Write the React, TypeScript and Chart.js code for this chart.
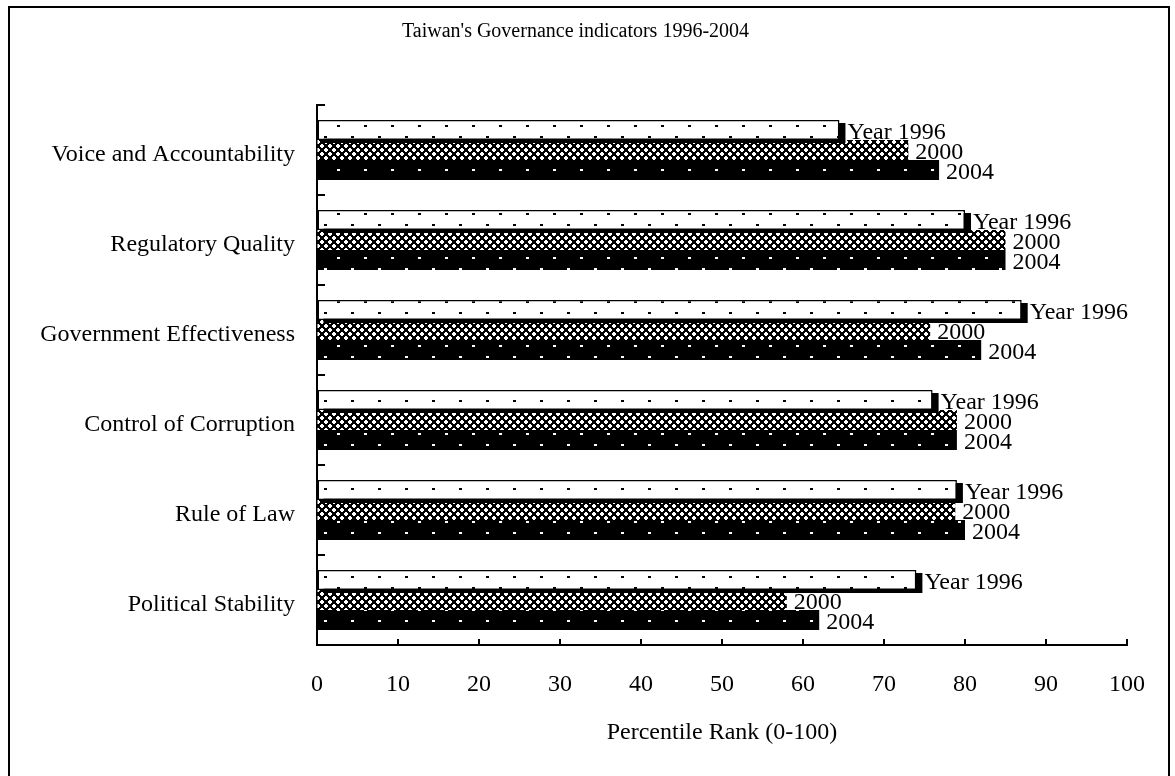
import React, { useEffect, useRef } from 'react';
import { Chart, registerables } from 'chart.js';

Chart.register(...registerables);

const titleText = "Taiwan's Governance indicators 1996-2004";
const axisTitle = 'Percentile Rank (0-100)';
const categories = [
  'Voice and Accountability',
  'Regulatory Quality',
  'Government Effectiveness',
  'Control of Corruption',
  'Rule of Law',
  'Political Stability',
];
const seriesNames = ['Year 1996', '2000', '2004'];
const values1996 = [64.5, 80, 87, 76, 79, 74];
const values2000 = [73, 85, 75.7, 79, 78.8, 58];
const values2004 = [76.8, 85, 82, 79, 80, 62];
const xMin = 0;
const xMax = 100;
const xStep = 10;

const FONT = "'Liberation Serif', 'Times New Roman', serif";

function makeDotPattern(ctx: CanvasRenderingContext2D, bg: string, fg: string) {
  const c = document.createElement('canvas');
  c.width = 27;
  c.height = 22;
  const t = c.getContext('2d')!;
  t.fillStyle = bg;
  t.fillRect(0, 0, 27, 22);
  t.fillStyle = fg;
  t.fillRect(13, 15, 3, 2);
  t.fillRect(0, 4, 3, 2);
  return ctx.createPattern(c, 'repeat')!;
}

function makeCheckPattern(ctx: CanvasRenderingContext2D) {
  const c = document.createElement('canvas');
  c.width = 8;
  c.height = 8;
  const t = c.getContext('2d')!;
  t.fillStyle = '#000';
  t.fillRect(0, 0, 8, 8);
  t.fillStyle = '#fff';
  // white diamond/plus shapes in a checker arrangement
  t.fillRect(1, 0, 2, 4);
  t.fillRect(0, 1, 4, 2);
  t.fillRect(5, 4, 2, 4);
  t.fillRect(4, 5, 4, 2);
  return ctx.createPattern(c, 'repeat')!;
}

const decorPlugin = {
  id: 'decor',
  beforeDraw(chart: any) {
    const ctx = chart.ctx;
    ctx.save();
    ctx.fillStyle = '#fff';
    ctx.fillRect(0, 0, chart.width, chart.height);
    ctx.strokeStyle = '#000';
    ctx.lineWidth = 2;
    ctx.strokeRect(9, 7, 1160, 800);
    ctx.restore();
  },
  beforeDatasetDraw(chart: any, args: any) {
    if (args.index !== 0) return;
    const ctx = chart.ctx;
    ctx.save();
    ctx.fillStyle = '#000';
    args.meta.data.forEach((el: any) => {
      const p = el.getProps(['x', 'y', 'base', 'height'], true);
      ctx.fillRect(p.base + 6, p.y - p.height / 2 + 3, p.x - p.base, p.height);
    });
    ctx.restore();
  },
  afterDatasetsDraw(chart: any) {
    const ctx = chart.ctx;
    ctx.save();
    ctx.font = `24px ${FONT}`;
    ctx.fillStyle = '#000';
    ctx.textBaseline = 'middle';
    ctx.textAlign = 'left';
    chart.data.datasets.forEach((ds: any, di: number) => {
      const meta = chart.getDatasetMeta(di);
      meta.data.forEach((el: any) => {
        const p = el.getProps(['x', 'y'], true);
        ctx.fillText(seriesNames[di], p.x + (di === 0 ? 8 : 7), p.y + 3);
      });
    });
    ctx.restore();
  },
  afterDraw(chart: any) {
    const ctx = chart.ctx;
    const xs = chart.scales.x;
    const ys = chart.scales.y;
    ctx.save();
    ctx.strokeStyle = '#000';
    ctx.lineWidth = 2;
    ctx.beginPath();
    for (let v = xMin; v <= xMax; v += xStep) {
      const px = Math.round(xs.getPixelForValue(v));
      ctx.moveTo(px, ys.bottom);
      ctx.lineTo(px, ys.bottom - 6);
    }
    const n = categories.length;
    for (let i = 0; i <= n; i++) {
      const c0 = ys.getPixelForValue(Math.max(0, Math.min(n - 1, i)));
      const c1 = ys.getPixelForValue(Math.max(0, Math.min(n - 1, i - 1)));
      let py: number;
      if (i === 0) py = ys.top;
      else if (i === n) py = ys.bottom;
      else py = (c0 + c1) / 2;
      py = Math.round(py);
      ctx.moveTo(xs.left, py);
      ctx.lineTo(xs.left + 8, py);
    }
    ctx.stroke();
    ctx.restore();
  },
};

export default function App() {
  const ref = useRef<HTMLCanvasElement | null>(null);
  useEffect(() => {
    const canvas = ref.current!;
    const ctx = canvas.getContext('2d')!;
    const p1996 = makeDotPattern(ctx, '#fff', '#000');
    const p2000 = makeCheckPattern(ctx);
    const p2004 = makeDotPattern(ctx, '#000', '#fff');
    const chart = new Chart(canvas, {
      type: 'bar',
      data: {
        labels: categories,
        datasets: [
          {
            label: seriesNames[0],
            data: values1996,
            backgroundColor: p1996 as any,
            borderColor: '#000',
            borderWidth: 1.5,
            borderSkipped: false,
          },
          {
            label: seriesNames[1],
            data: values2000,
            backgroundColor: p2000 as any,
            borderWidth: 0,
          },
          {
            label: seriesNames[2],
            data: values2004,
            backgroundColor: p2004 as any,
            borderWidth: 0,
          },
        ],
      },
      options: {
        indexAxis: 'y',
        responsive: false,
        animation: false,
        devicePixelRatio: 1,
        layout: { padding: { top: 0, left: 24, right: 48, bottom: 0 } },
        datasets: { bar: { barPercentage: 1, categoryPercentage: 0.6667 } } as any,
        plugins: {
          legend: { display: false },
          tooltip: { enabled: false },
          title: {
            display: true,
            text: titleText,
            color: '#000',
            font: { family: FONT, size: 20, weight: 'normal' },
            padding: { top: 20, bottom: 61 },
          },
        },
        scales: {
          x: {
            min: xMin,
            max: xMax,
            ticks: {
              stepSize: xStep,
              color: '#000',
              font: { family: FONT, size: 24 },
              padding: 25,
              maxRotation: 0,
            },
            grid: { drawOnChartArea: false, drawTicks: false },
            border: { display: true, color: '#000', width: 2 },
            title: {
              display: true,
              text: axisTitle,
              color: '#000',
              font: { family: FONT, size: 24 },
              padding: { top: 0, bottom: 29 },
            },
            afterFit: (scale: any) => {
              scale.height = 131;
            },
          },
          y: {
            ticks: {
              color: '#000',
              font: { family: FONT, size: 24 },
              padding: 22,
              labelOffset: 5,
            },
            grid: { drawOnChartArea: false, drawTicks: false },
            border: { display: true, color: '#000', width: 2 },
            afterFit: (scale: any) => {
              scale.width = 293;
            },
          },
        },
      },
      plugins: [decorPlugin],
    });
    return () => chart.destroy();
  }, []);
  return (
    <canvas
      ref={ref}
      width={1175}
      height={776}
      style={{ position: 'fixed', left: 0, top: 0, width: 1175, height: 776 }}
    />
  );
}
